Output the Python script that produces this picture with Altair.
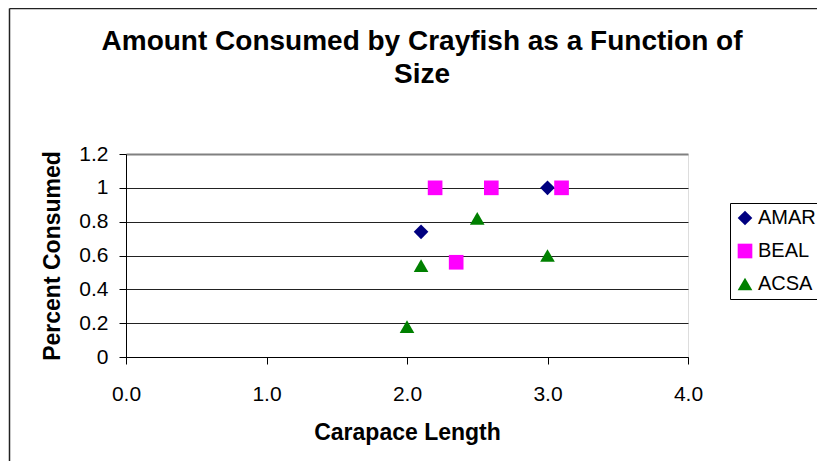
import altair as alt
import pandas as pd

series_names = ["AMAR", "BEAL", "ACSA"]
amar_x = [2.1, 3.0]
amar_y = [0.74, 1.0]
beal_x = [2.2, 2.6, 3.1, 2.35]
beal_y = [1.0, 1.0, 1.0, 0.56]
acsa_x = [2.0, 2.1, 2.5, 3.0]
acsa_y = [0.18, 0.54, 0.82, 0.6]

x_ticks = [0, 1, 2, 3, 4]
y_ticks = [0, 0.2, 0.4, 0.6, 0.8, 1.0, 1.2]
title_lines = ["Amount Consumed by Crayfish as a Function of", "Size"]

rows = []
for name, xs, ys in [("AMAR", amar_x, amar_y), ("BEAL", beal_x, beal_y), ("ACSA", acsa_x, acsa_y)]:
    for xv, yv in zip(xs, ys):
        rows.append({"series": name, "length": xv, "consumed": yv})
df = pd.DataFrame(rows)

FONT = "Liberation Sans"
PAD = {"left": 118, "top": 146, "right": 129, "bottom": 104}
W, H = 562, 203

points = alt.Chart(df).mark_point(filled=True, opacity=1).encode(
    x=alt.X("length:Q",
            scale=alt.Scale(domain=[0, 4], nice=False, zero=False),
            axis=alt.Axis(values=x_ticks, format=".1f", grid=False, title="Carapace Length",
                          labelFlush=False,
                          domainColor="black", tickColor="black", tickSize=7,
                          labelFontSize=21, labelPadding=19, labelColor="black",
                          titleFontSize=23, titleFontWeight="bold", titleColor="black",
                          titleX=281, titleY=75, titleBaseline="middle",
                          labelFont=FONT, titleFont=FONT)),
    y=alt.Y("consumed:Q",
            scale=alt.Scale(domain=[0, 1.2], nice=False),
            axis=alt.Axis(values=y_ticks, format="~g", grid=True, title="Percent Consumed",
                          labelFlush=False,
                          gridColor={"condition": {"test": "datum.value >= 1.19", "value": "#808080"}, "value": "#222222"},
                          gridWidth={"condition": {"test": "datum.value >= 1.19", "value": 2}, "value": 1},
                          domainColor="black", tickColor="black", tickSize=7,
                          labelFontSize=21, labelPadding=11, labelColor="black",
                          titleFontSize=23, titleFontWeight="bold", titleColor="black",
                          titleX=-74, titleY=101.5, titleBaseline="middle", titleAngle=-90,
                          labelFont=FONT, titleFont=FONT)),
    shape=alt.Shape("series:N",
                    scale=alt.Scale(domain=series_names, range=["diamond", "square", "triangle-up"]),
                    legend=alt.Legend(title=None)),
    color=alt.Color("series:N",
                    scale=alt.Scale(domain=series_names, range=["#000080", "#FF00FF", "#008000"]),
                    legend=alt.Legend(title=None, orient="none", legendX=604, legendY=49,
                                      strokeColor="black", padding=5, fillColor="white",
                                      labelFontSize=20, labelFont=FONT, labelColor="black",
                                      symbolSize=170, labelOffset=3, rowPadding=13,
                                      symbolStrokeWidth=0)),
    size=alt.Size("series:N",
                  scale=alt.Scale(domain=series_names, range=[215, 215, 265]),
                  legend=None),
)

one = pd.DataFrame({"k": [0]})

x_end = W + PAD["right"]
y_end = H + PAD["bottom"]

frame_left = alt.Chart(one).mark_rule(color="#222222", strokeWidth=1.5).encode(
    x=alt.value(-116.5), y=alt.value(-145.5), y2=alt.value(y_end)
)
frame_top = alt.Chart(one).mark_rule(color="#222222", strokeWidth=1.5).encode(
    y=alt.value(-145.5), x=alt.value(-116.5), x2=alt.value(x_end)
)

title = alt.Chart(one).mark_text(
    font=FONT, fontSize=28, fontWeight="bold", color="black",
    align="center", baseline="alphabetic", lineHeight=33
).encode(
    x=alt.value(296), y=alt.value(-104), text=alt.value(title_lines)
)

chart = alt.layer(frame_left, frame_top, title, points).properties(
    width=W,
    height=H,
    autosize=alt.AutoSizeParams(type="none"),
    padding=PAD,
).configure_view(
    stroke="#808080", strokeWidth=2
).configure(background="white")

chart.save("out.html", embed_options={"renderer": "svg", "actions": False})
